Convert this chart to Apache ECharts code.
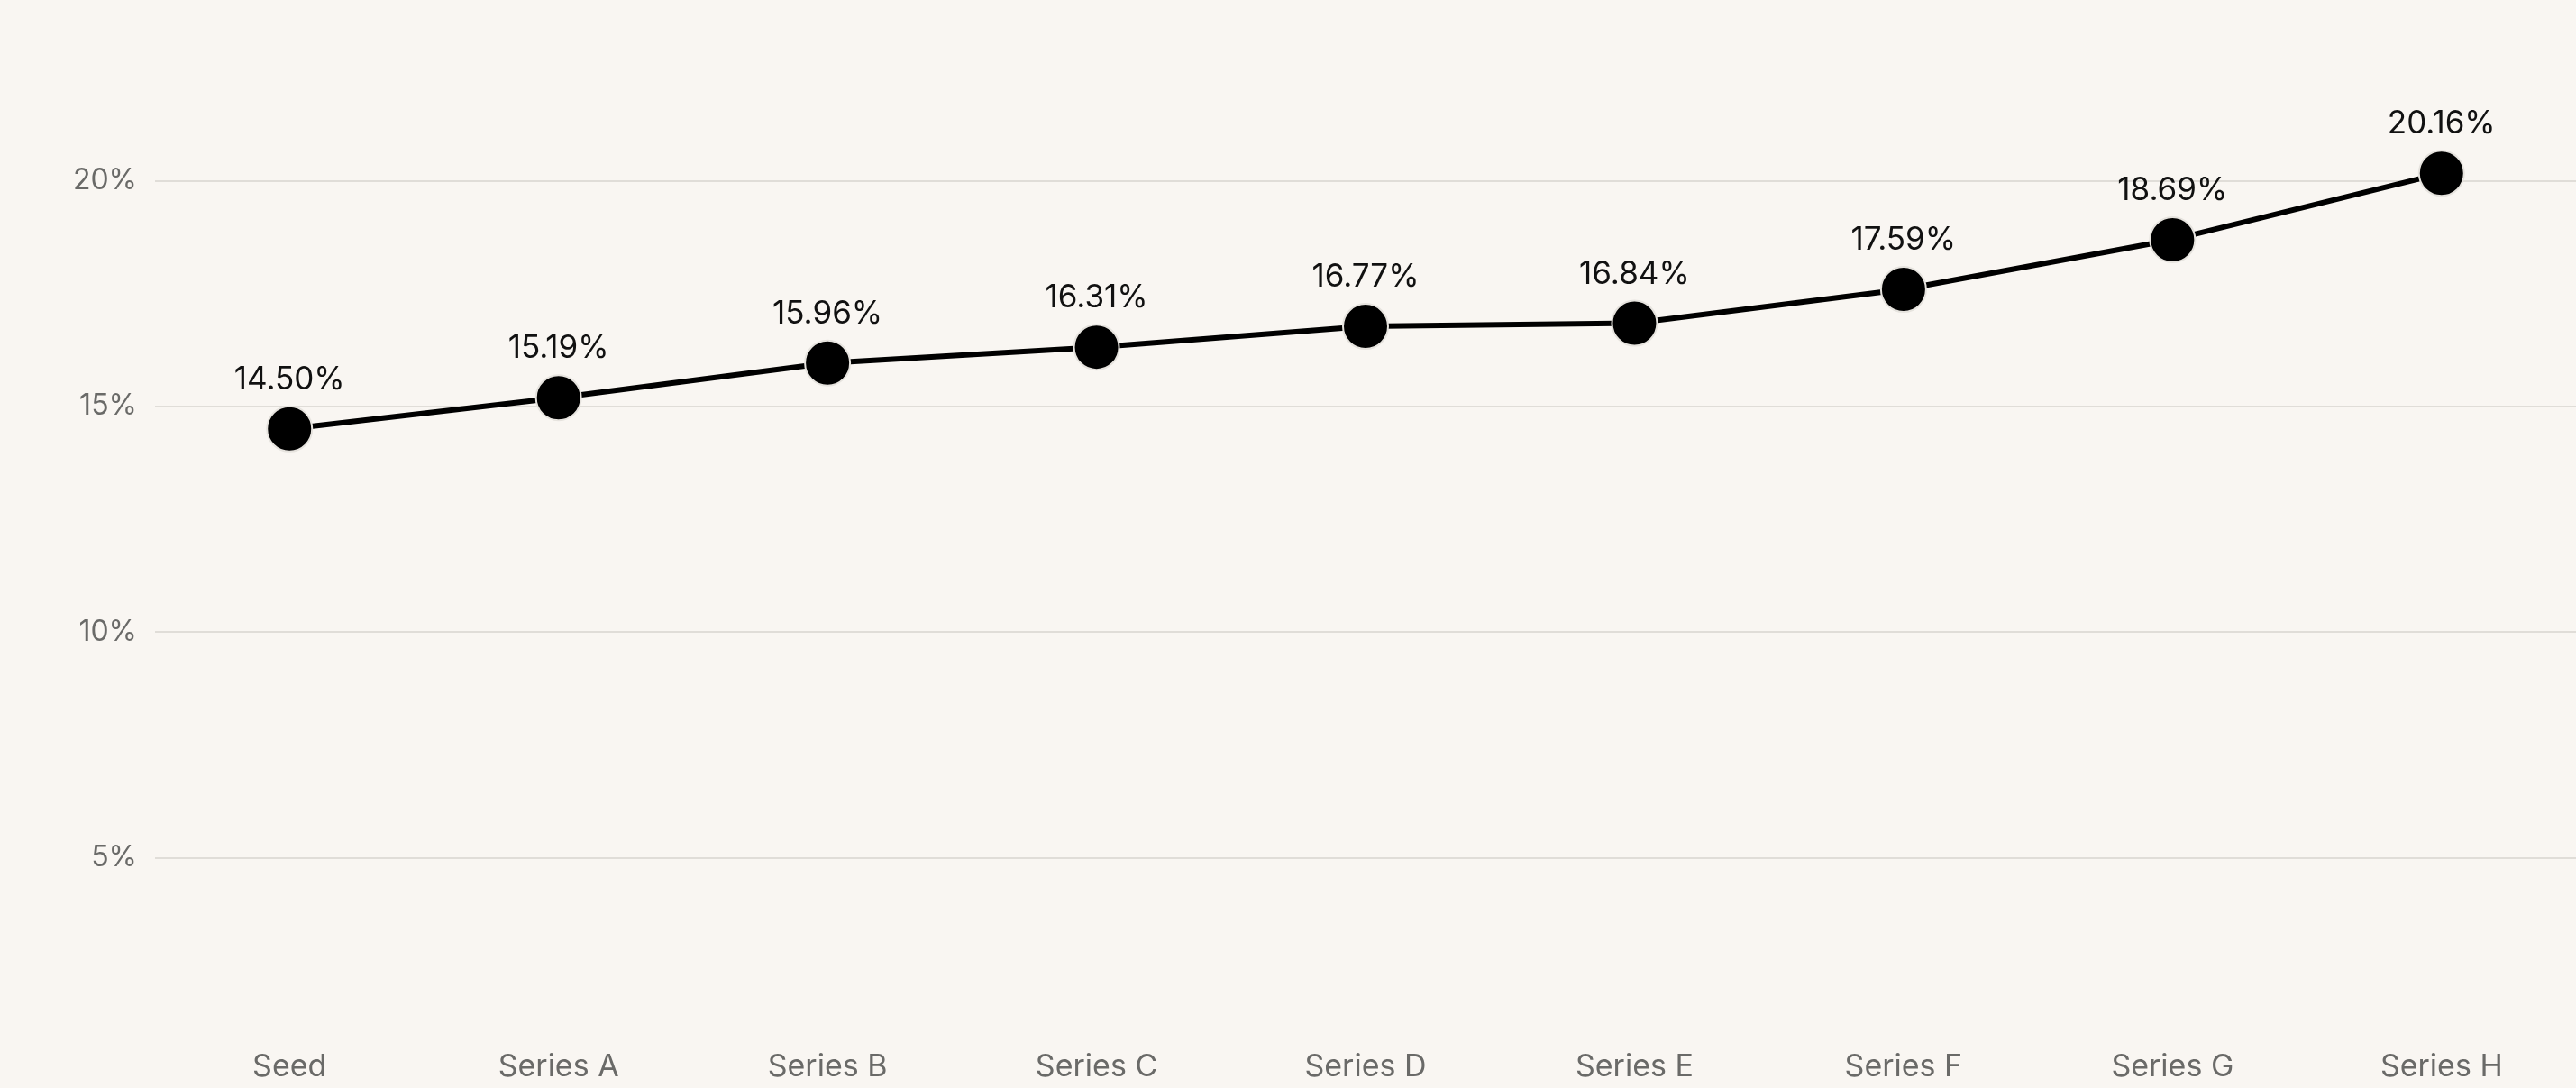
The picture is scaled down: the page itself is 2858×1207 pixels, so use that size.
<!DOCTYPE html>
<html>
<head>
<meta charset="utf-8">
<title>Rate by funding stage</title>
<script src="https://cdn.jsdelivr.net/npm/echarts@6/dist/echarts.min.js"></script>
<style>
  html, body { margin: 0; padding: 0; background: #F9F6F2; }
  #chart { width: 2858px; height: 1207px; }
</style>
</head>
<body>
<div id="chart"></div>
<script>
// Funding stages along the x axis
const stages = ['Seed', 'Series A', 'Series B', 'Series C', 'Series D', 'Series E', 'Series F', 'Series G', 'Series H'];
// Rate per stage, in percent
const rates = [14.50, 15.19, 15.96, 16.31, 16.77, 16.84, 17.59, 18.69, 20.16];
// Value axis range and step (percent)
const yMin = 0;
const yMax = 24;
const yStep = 5;

const FONT = 'Inter, "Noto Sans", sans-serif';

const chart = echarts.init(document.getElementById('chart'));
chart.setOption({
  backgroundColor: '#F9F6F2',
  animation: false,
  grid: { left: 172, right: 0, top: 0, bottom: 5, containLabel: false, outerBoundsMode: 'none' },
  xAxis: {
    type: 'category',
    data: stages,
    boundaryGap: true,
    axisLine: { show: false },
    axisTick: { show: false },
    splitLine: { show: false },
    axisLabel: {
      inside: true,
      margin: 1,
      color: '#6A6A68',
      fontFamily: FONT,
      fontSize: 34
    }
  },
  yAxis: {
    type: 'value',
    min: yMin,
    max: yMax,
    interval: yStep,
    axisLine: { show: false },
    axisTick: { show: false },
    splitLine: { showMinLine: false, showMaxLine: false, lineStyle: { color: '#E0DDD8', width: 2 } },
    axisLabel: {
      showMinLabel: false,
      showMaxLabel: false,
      margin: 20,
      color: '#6A6A68',
      fontFamily: FONT,
      fontSize: 32,
      formatter: '{value}%'
    }
  },
  series: [{
    type: 'line',
    data: rates,
    symbol: 'circle',
    symbolSize: 50,
    lineStyle: { color: '#000000', width: 6 },
    itemStyle: { color: '#000000', borderColor: '#E6E3DE', borderWidth: 2 },
    label: {
      show: true,
      position: 'top',
      distance: 11,
      color: '#111111',
      fontFamily: FONT,
      fontSize: 35,
      formatter: p => p.value.toFixed(2) + '%'
    },
    z: 3
  }]
});
</script>
</body>
</html>
